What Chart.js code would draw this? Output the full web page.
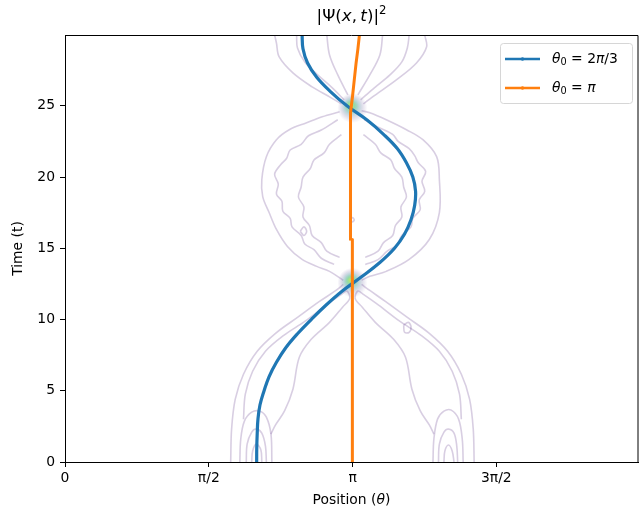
<!DOCTYPE html>
<html>
<head>
<meta charset="utf-8">
<script src="https://cdn.jsdelivr.net/npm/chart.js@4.4.1/dist/chart.umd.min.js"></script>
<style>
  html, body { margin: 0; padding: 0; background: #fff; }
  #c { display: block; }
</style>
</head>
<body>
<canvas id="c" width="639" height="513"></canvas>
<script>
// ---- data (theta in rad, t in time units) ----
const timeBlue  = [0, 1, 2, 3, 4, 5, 6, 7, 8, 9, 10, 11, 12, 13, 14, 15, 16, 17, 18, 19, 20, 21, 22, 23, 24, 25, 26, 27, 28, 29, 30];
const thetaBlue = [2.094, 2.095, 2.100, 2.108, 2.13, 2.175, 2.23, 2.31, 2.41, 2.54, 2.69, 2.85, 3.03, 3.24, 3.44, 3.60, 3.71, 3.78, 3.82, 3.83, 3.80, 3.73, 3.63, 3.48, 3.30, 3.08, 2.90, 2.75, 2.65, 2.60, 2.59];

const timeOrange  = [0, 8, 15.6, 15.65, 23, 24.5, 25.6, 26.8, 28.0, 29.0, 30.0];
const thetaOrange = [3.141, 3.140, 3.139, 3.122, 3.118, 3.12, 3.14, 3.16, 3.18, 3.20, 3.217];

const xTickValues = [0, Math.PI / 2, Math.PI, 3 * Math.PI / 2];
const xTickLabels = ['0', 'π/2', 'π', '3π/2'];
const yTickValues = [0, 5, 10, 15, 20, 25];

// bright spots of |Psi|^2 where the packets meet
const blobTheta = [3.14, 3.14];
const blobTime  = [12.58, 24.84];

// contour lines of |Psi|^2, as [theta, t] pairs
const contourOuterLowL = [[1.81,0],[1.82,2.31],[1.86,4.41],[1.95,6.16],[2.10,7.77],[2.30,9.03],[2.54,10.15],[2.78,11.27],[2.96,12.04],[3.04,12.46]];
const contourOuterLowR = [[4.47,0],[4.46,2.31],[4.42,4.41],[4.33,6.16],[4.18,7.77],[3.98,9.03],[3.74,10.15],[3.50,11.27],[3.33,12.04],[3.24,12.46]];
const contourBandLowL  = [[1.95,3.0],[1.97,4.76],[2.05,6.37],[2.19,7.77],[2.39,8.89],[2.62,9.87],[2.85,10.99],[3.02,11.76],[3.08,12.0],[3.11,11.48],[3.03,10.85],[2.89,9.80],[2.69,8.61],[2.56,7.35],[2.49,5.11],[2.40,3.6],[2.30,2.6],[2.25,1.96]];
const contourBandLowR  = [[4.33,3.0],[4.31,4.76],[4.23,6.37],[4.09,7.77],[3.89,8.89],[3.66,9.87],[3.43,10.99],[3.26,11.76],[3.20,12.0],[3.17,11.48],[3.25,10.85],[3.39,9.80],[3.59,8.61],[3.72,7.35],[3.79,5.11],[3.88,3.6],[3.98,2.6],[4.03,1.96]];

const lobeBigL   = [[1.91,0],[1.92,1.61],[1.96,2.87],[2.04,3.50],[2.13,3.57],[2.20,3.15],[2.25,1.96],[2.26,0]];
const lobeMidL   = [[1.98,0],[1.99,1.26],[2.04,2.10],[2.09,2.31],[2.15,2.03],[2.19,1.12],[2.20,0]];
const lobeSmallL = [[2.04,0],[2.05,0.77],[2.09,1.26],[2.14,0.84],[2.15,0]];
const lobeBigR   = [[4.02,0],[4.03,1.61],[4.07,3.01],[4.14,3.57],[4.22,3.64],[4.30,3.01],[4.34,1.61],[4.35,0]];
const lobeMidR   = [[4.08,0],[4.09,1.26],[4.14,2.10],[4.19,2.31],[4.25,2.03],[4.28,1.12],[4.29,0]];
const lobeSmallR = [[4.14,0],[4.15,0.77],[4.19,1.19],[4.23,0.77],[4.25,0]];

const contourOuterMidL  = [[3.04,12.75],[2.89,13.38],[2.75,13.73],[2.59,14.22],[2.43,15.13],[2.31,16.32],[2.23,17.51],[2.16,18.63],[2.15,19.82],[2.20,21.43],[2.31,22.62],[2.45,23.32],[2.64,23.81],[2.81,24.23],[3.00,24.58]];
const contourOuterMidR  = [[3.24,12.75],[3.33,13.03],[3.51,13.38],[3.76,14.22],[3.98,15.62],[4.09,17.51],[4.09,19.82],[4.06,21.43],[3.91,22.62],[3.73,23.32],[3.51,24.02],[3.33,24.51],[3.24,24.65]];
const contourSecondMidL = [[2.94,13.87],[2.80,14.3],[2.72,14.9],[2.62,15.3],[2.58,15.9],[2.48,16.5],[2.46,17.1],[2.38,17.6],[2.37,18.3],[2.31,18.8],[2.33,19.5],[2.29,20.2],[2.36,20.9],[2.42,21.3],[2.46,21.9],[2.58,22.3],[2.66,22.9],[2.80,23.3],[2.98,24.02]];
const contourSecondMidR = [[3.28,13.87],[3.42,14.2],[3.52,14.8],[3.62,15.2],[3.68,15.9],[3.78,16.5],[3.80,17.1],[3.88,17.7],[3.87,18.4],[3.93,19.0],[3.90,19.7],[3.94,20.4],[3.86,21.0],[3.82,21.5],[3.76,22.0],[3.64,22.5],[3.58,23.0],[3.42,23.5],[3.27,24.02]];
const contourInnerMidL  = [[3.00,14.36],[2.86,14.8],[2.80,15.4],[2.70,15.9],[2.67,16.6],[2.60,17.2],[2.61,17.9],[2.55,18.6],[2.58,19.3],[2.60,20.0],[2.68,20.6],[2.72,21.2],[2.83,21.7],[2.89,22.3],[3.02,22.97]];
const contourInnerMidR  = [[3.28,14.36],[3.42,14.8],[3.48,15.4],[3.58,15.9],[3.61,16.6],[3.68,17.2],[3.67,17.9],[3.73,18.6],[3.70,19.3],[3.68,20.0],[3.60,20.6],[3.56,21.2],[3.45,21.7],[3.39,22.3],[3.26,22.97]];

const contourOuterTopL  = [[3.02,25.14],[2.89,25.63],[2.70,26.33],[2.49,27.31],[2.34,28.43],[2.31,29.41],[2.29,29.97]];
const contourOuterTopR  = [[3.26,25.14],[3.36,25.63],[3.62,26.82],[3.84,28.01],[3.95,29.13],[3.93,29.97]];
const contourSecondTopL = [[3.05,25.42],[2.92,26.26],[2.76,27.17],[2.62,28.08],[2.54,29.06],[2.53,29.97]];
const contourSecondTopR = [[3.23,25.42],[3.38,26.26],[3.55,27.17],[3.68,28.08],[3.74,29.06],[3.76,29.97]];
const contourInnerTopL  = [[3.09,25.77],[2.98,27.17],[2.89,28.57],[2.86,29.97]];
const contourInnerTopR  = [[3.20,25.77],[3.33,27.17],[3.44,28.57],[3.47,29.97]];

const islandR = [[3.70,9.6],[3.75,9.8],[3.78,9.5],[3.76,9.1],[3.71,9.1],[3.70,9.6]];
const islandL = [[2.57,16.2],[2.61,16.5],[2.64,16.2],[2.61,15.9],[2.57,16.2]];
const islandC = [[3.12,17.0],[3.14,17.15],[3.16,17.0],[3.14,16.85],[3.12,17.0]];

const contourLines = [
    contourOuterLowL, contourOuterLowR, contourBandLowL, contourBandLowR,
    lobeBigL, lobeMidL, lobeSmallL, lobeBigR, lobeMidR, lobeSmallR,
    contourOuterMidL, contourOuterMidR, contourSecondMidL, contourSecondMidR, contourInnerMidL, contourInnerMidR,
    contourOuterTopL, contourOuterTopR, contourSecondTopL, contourSecondTopR, contourInnerTopL, contourInnerTopR,
    islandR, islandL, islandC
];

const BLUE = '#1f77b4';
const ORANGE = '#ff7f0e';
const CONTOUR = 'rgba(100,60,140,0.25)';
const FONT = '"DejaVu Sans"';

const toPoints = (xs, ys) => xs.map((x, i) => ({ x: x, y: ys[i] }));

/* ---- mixed upright / italic / sub / sup text, like mathtext ---- */
function drawRuns(ctx, runs, x, y, size, align) {
    const fonts = {
        r: `${size}px ${FONT}`,
        i: `italic ${size}px ${FONT}`,
        sub: `${size * 0.7}px ${FONT}`,
        sup: `${size * 0.7}px ${FONT}`
    };
    const shift = { r: 0, i: 0, sub: size * 0.24, sup: -size * 0.36 };
    let w = 0;
    runs.forEach(([t, s]) => { ctx.font = fonts[s]; w += ctx.measureText(t).width; });
    let cx = align === 'left' ? x : x - w / 2;
    ctx.textBaseline = 'middle';
    ctx.textAlign = 'left';
    runs.forEach(([t, s]) => {
        ctx.font = fonts[s];
        ctx.fillText(t, cx, y + shift[s]);
        cx += ctx.measureText(t).width;
    });
}

const decorPlugin = {
    id: 'decor',
    beforeDatasetDraw(chart, args) {
        // the two bright spots go under the trajectories, over the contours
        if (args.index !== 1) return;
        const { ctx, scales: { x, y } } = chart;
        ctx.save();
        blobTheta.forEach((th, i) => {
            const px = x.getPixelForValue(th);
            const py = y.getPixelForValue(blobTime[i]);
            const g = ctx.createRadialGradient(px - 2, py - 3, 0, px, py, 15);
            g.addColorStop(0, 'rgba(190,228,60,0.85)');
            g.addColorStop(0.25, 'rgba(90,200,120,0.65)');
            g.addColorStop(0.5, 'rgba(60,140,150,0.35)');
            g.addColorStop(0.75, 'rgba(110,100,160,0.18)');
            g.addColorStop(1, 'rgba(130,110,170,0)');
            ctx.fillStyle = g;
            ctx.beginPath();
            ctx.arc(px, py, 15, 0, Math.PI * 2);
            ctx.fill();
        });
        ctx.restore();
    },
    afterDraw(chart) {
        const { ctx, chartArea: a } = chart;
        ctx.save();
        // top and right spines
        ctx.strokeStyle = '#000';
        ctx.lineWidth = 1;
        ctx.beginPath();
        ctx.moveTo(a.left, a.top + 0.5);
        ctx.lineTo(a.right, a.top + 0.5);
        ctx.lineTo(a.right, a.bottom);
        ctx.stroke();

        ctx.fillStyle = '#000';
        // title
        drawRuns(ctx, [['|Ψ(', 'r'], ['x', 'i'], [',\u2009', 'r'], ['t', 'i'], [')|', 'r'], ['2', 'sup']],
            (a.left + a.right) / 2, 17, 16.7);
        // x label
        drawRuns(ctx, [['Position (', 'r'], ['θ', 'i'], [')', 'r']], (a.left + a.right) / 2, 500, 13.9);

        // legend
        const bx = a.right - 138, by = a.top + 8, bw = 132, bh = 60;
        ctx.fillStyle = 'rgba(255,255,255,0.8)';
        ctx.strokeStyle = '#d6d6d6';
        ctx.beginPath();
        ctx.roundRect(bx + 0.5, by + 0.5, bw, bh, 3);
        ctx.fill();
        ctx.stroke();
        const rows = [
            { color: BLUE, runs: [['θ', 'i'], ['0', 'sub'], [' = 2', 'r'], ['π', 'i'], ['/3', 'r']] },
            { color: ORANGE, runs: [['θ', 'i'], ['0', 'sub'], [' = ', 'r'], ['π', 'i']] }
        ];
        rows.forEach((r, i) => {
            const ly = by + 16 + i * 29;
            ctx.strokeStyle = r.color;
            ctx.lineWidth = 2.5;
            ctx.beginPath();
            ctx.moveTo(bx + 5, ly);
            ctx.lineTo(bx + 40, ly);
            ctx.stroke();
            ctx.fillStyle = r.color;
            ctx.beginPath();
            ctx.arc(bx + 22.5, ly, 1.8, 0, Math.PI * 2);
            ctx.fill();
            ctx.fillStyle = '#000';
            drawRuns(ctx, r.runs, bx + 52, ly, 13.9, 'left');
        });
        ctx.restore();
    }
};

const datasets = [
    {
        label: 'θ0 = π',
        data: toPoints(thetaOrange, timeOrange),
        borderColor: ORANGE,
        borderWidth: 3,
        showLine: true,
        pointRadius: 0,
        tension: 0,
        order: 0
    },
    {
        label: 'θ0 = 2π/3',
        data: toPoints(thetaBlue, timeBlue),
        borderColor: BLUE,
        borderWidth: 3.2,
        showLine: true,
        pointRadius: 0,
        tension: 0.4,
        order: 1
    }
];
contourLines.forEach((c, i) => {
    datasets.push({
        label: 'contour' + i,
        data: c.map(p => ({ x: p[0], y: p[1] })),
        borderColor: CONTOUR,
        borderWidth: 1.6,
        showLine: true,
        pointRadius: 0,
        tension: 0.35,
        order: 3
    });
});

const tickFont = { family: 'DejaVu Sans', size: 13.9 };

new Chart(document.getElementById('c').getContext('2d'), {
    type: 'scatter',
    data: { datasets: datasets },
    plugins: [decorPlugin],
    options: {
        responsive: false,
        animation: false,
        devicePixelRatio: 1,
        layout: { padding: { top: 35, right: 1, left: 0, bottom: 0 } },
        plugins: {
            legend: { display: false },
            tooltip: { enabled: false },
            title: { display: false }
        },
        scales: {
            x: {
                type: 'linear',
                min: 0,
                max: 6.26,
                afterBuildTicks: s => { s.ticks = xTickValues.map(v => ({ value: v })); },
                afterFit: s => { s.height = 51; },
                ticks: {
                    callback: (v, i) => xTickLabels[i],
                    color: '#000',
                    font: tickFont,
                    padding: 3,
                    maxRotation: 0,
                    autoSkip: false
                },
                grid: { drawOnChartArea: false, drawTicks: true, tickLength: 5, tickColor: '#000' },
                border: { display: true, color: '#000', width: 1 }
            },
            y: {
                type: 'linear',
                min: 0,
                max: 29.97,
                afterBuildTicks: s => { s.ticks = yTickValues.map(v => ({ value: v })); },
                afterFit: s => { s.width = 65; },
                ticks: {
                    color: '#000',
                    font: tickFont,
                    padding: 5
                },
                grid: { drawOnChartArea: false, drawTicks: true, tickLength: 5, tickColor: '#000' },
                border: { display: true, color: '#000', width: 1 },
                title: {
                    display: true,
                    text: 'Time (t)',
                    color: '#000',
                    font: { family: 'DejaVu Sans', size: 13.9 },
                    padding: { top: 10, bottom: 0 }
                }
            }
        }
    }
});
</script>
</body>
</html>
